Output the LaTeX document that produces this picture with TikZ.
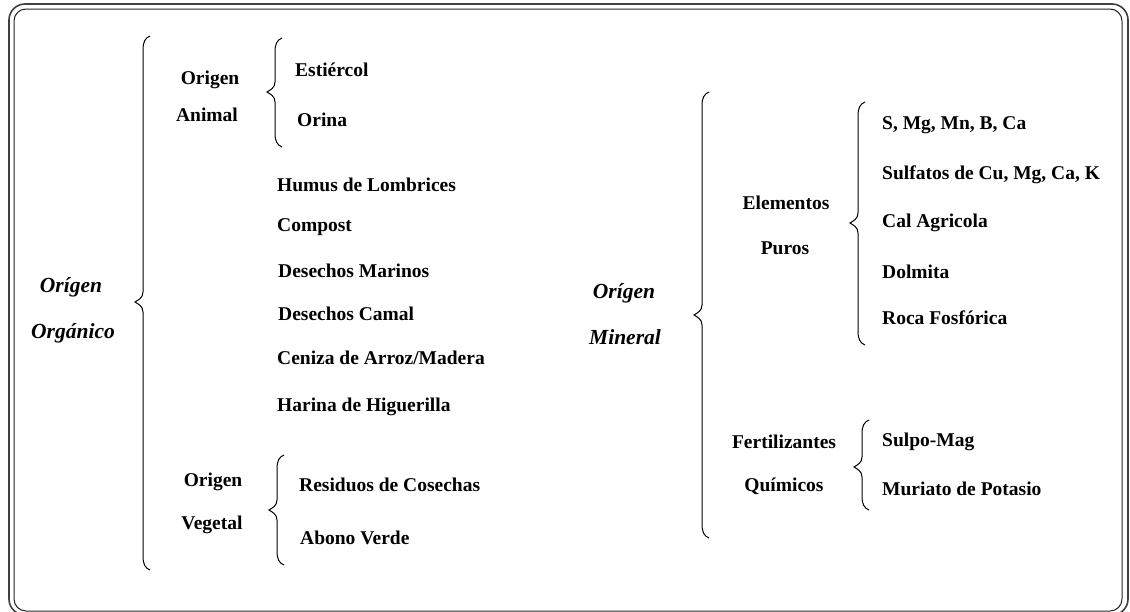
\documentclass[tikz,border=0pt]{standalone}
\usepackage{fontspec}
\setmainfont{Liberation Serif}
\newcommand\curlybrace[4]{%
  \draw[bracestyle] (#1+7,#2) .. controls (#1+2,#2+2) and (#1,#2+6) .. (#1,#2+14)
    -- (#1,#4-10) .. controls (#1,#4-4) and (#1-5,#4-2) .. (#1-8,#4)
    .. controls (#1-5,#4+2) and (#1,#4+4) .. (#1,#4+10)
    -- (#1,#3-14) .. controls (#1,#3-6) and (#1+2,#3-2) .. (#1+7,#3);}
\tikzset{
  bracestyle/.style={line width=1pt, black},
  lbl/.style={font=\bfseries\fontsize{19.5}{22}\selectfont, inner sep=0pt},
  item/.style={lbl, anchor=west},
  main/.style={font=\bfseries\itshape\fontsize{21.5}{24}\selectfont, inner sep=0pt},
}
\begin{document}
\begin{tikzpicture}[x=1pt,y=-1pt]
\useasboundingbox[fill=white] (0,0) rectangle (1130,611);
% frame
\draw[line width=1.6pt, black!75, rounded corners=16pt] (9,4) rectangle (1128,615);
\draw[line width=1pt, black!85, rounded corners=12pt] (14,9) rectangle (1122,611);

% left: Origen Organico
\node[main] (oo1) at (71,287) {Orígen};
\node[main] (oo2) at (73,333) {Orgánico};
\curlybrace{143}{36}{570}{302}

\node[lbl] (oa1) at (210,80) {Origen};
\node[lbl] (oa2) at (207,115) {Animal};
\curlybrace{275}{38}{147}{92}
\node[item] (est) at (295,70) {Estiércol};
\node[item] (ori) at (297,120) {Orina};

\node[item] (hum) at (277,185) {Humus de Lombrices};
\node[item] (com) at (277,227) {Compost};
\node[item] (dma) at (278,271) {Desechos Marinos};
\node[item] (dca) at (278,314) {Desechos Camal};
\node[item] (cen) at (277,358) {Ceniza de Arroz/Madera};
\node[item] (har) at (277,407) {Harina de Higuerilla};

\node[lbl] (ov1) at (213,482) {Origen};
\node[lbl] (ov2) at (212,525) {Vegetal};
\curlybrace{277}{455}{565}{510}
\node[item] (res) at (299,485) {Residuos de Cosechas};
\node[item] (abo) at (300,538) {Abono Verde};

% right: Origen Mineral
\node[main] (om1) at (624,293) {Orígen};
\node[main] (om2) at (625,337) {Mineral};
\curlybrace{702}{92}{538}{315}

\node[lbl] (ep1) at (786,203) {Elementos};
\node[lbl] (ep2) at (785,248) {Puros};
\curlybrace{858}{102}{345}{223}
\node[item] (smg) at (882,125) {S, Mg, Mn, B, Ca};
\node[item] (sul) at (882,175) {Sulfatos de Cu, Mg, Ca, K};
\node[item] (cal) at (882,223) {Cal Agricola};
\node[item] (dol) at (882,272) {Dolmita};
\node[item] (roc) at (882,318) {Roca Fosfórica};

\node[lbl] (fq1) at (784,442) {Fertilizantes};
\node[lbl] (fq2) at (784,486) {Químicos};
\curlybrace{862}{420}{510}{467}
\node[item] (spm) at (882,442) {Sulpo-Mag};
\node[item] (mur) at (882,489) {Muriato de Potasio};
\end{tikzpicture}
\end{document}
